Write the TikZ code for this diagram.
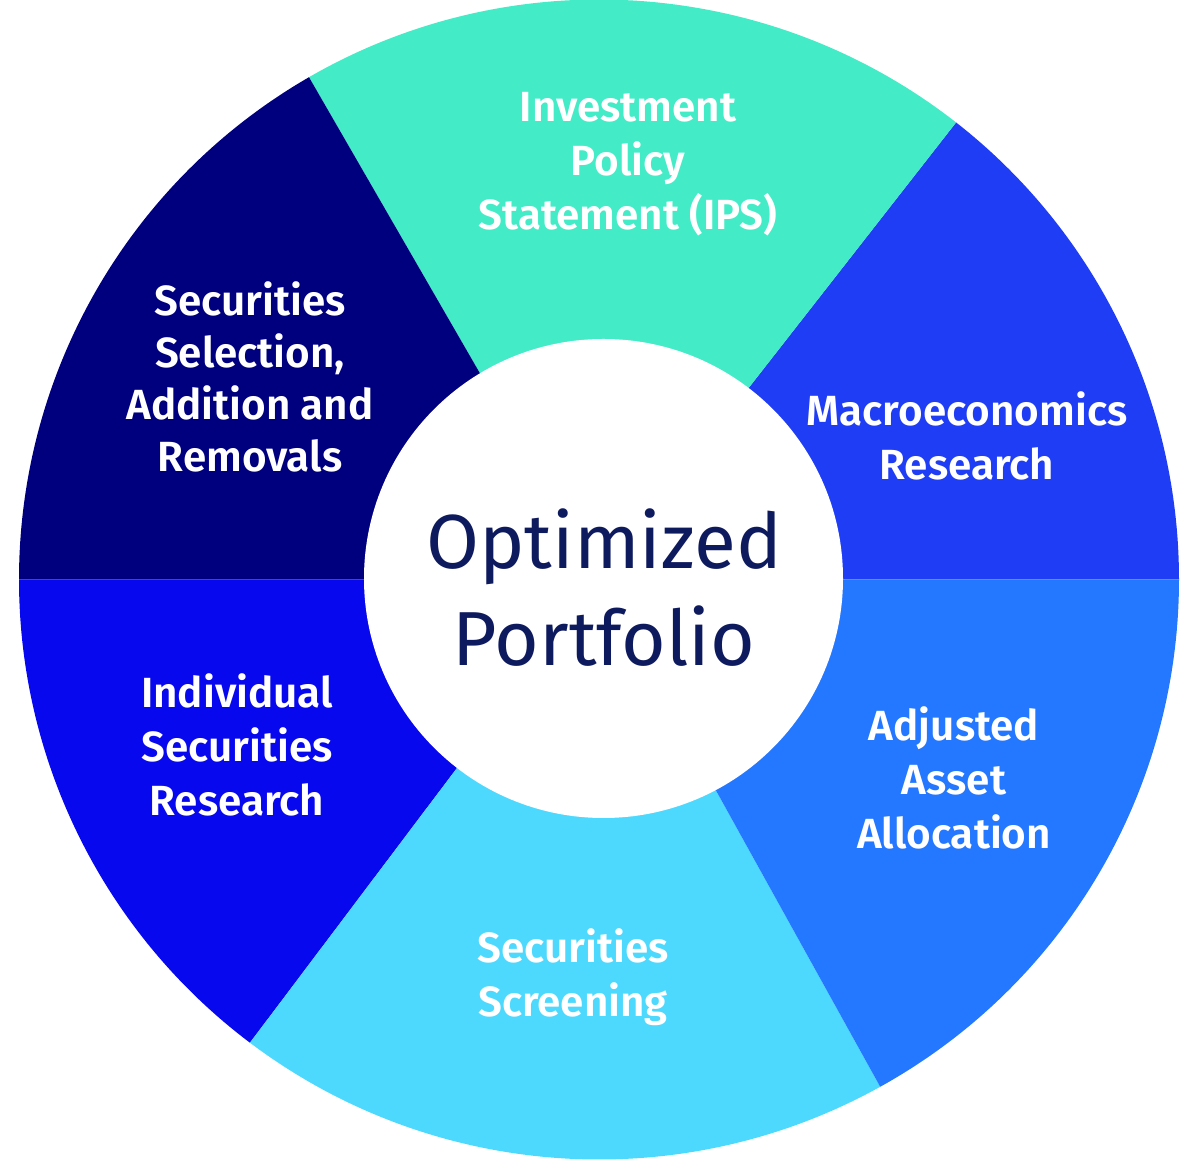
\documentclass[tikz,border=0pt]{standalone}
\usepackage{fontspec}
\setmainfont{Fira Sans}[BoldFont={Fira Sans SemiBold}]
\usepackage{tikz}
\usetikzlibrary{calc}

\definecolor{ipsteal}{HTML}{44EBC7}
\definecolor{macroblue}{HTML}{1F3DF5}
\definecolor{assetblue}{HTML}{2478FF}
\definecolor{screensky}{HTML}{4DD9FE}
\definecolor{indivblue}{HTML}{0808EE}
\definecolor{selectnavy}{HTML}{00007F}
\definecolor{coretext}{HTML}{0E1A5E}

\tikzset{
	seglabel/.style={text=white, align=center, font=\bfseries\fontsize{12}{15.4}\selectfont, inner sep=0pt},
	corelabel/.style={text=coretext, align=center, font=\fontsize{21.8}{27.6}\selectfont, inner sep=0pt}
}

\begin{document}
\begin{tikzpicture}
	\useasboundingbox (0,0) rectangle (12,11.6);
	\coordinate (O) at (5.99,5.805);		%centre of the wheel
	\coordinate (I) at (6.035,5.815);		%centre of the hole
	
	%wedges
	\foreach \a/\b/\c in {0/52/macroblue, 52/120/ipsteal, 120/180/selectnavy, 180/233/indivblue, 233/299/screensky, 299/360/assetblue}
	\fill[\c] (O) -- ++(\a:5.8) arc (\a:\b:5.8) -- cycle;
	
	%hole
	\fill[white] (I) circle (2.395);
	
	%labels
	\node[seglabel] (ips) at (6.28,9.96) {Investment\\Policy\\Statement (IPS)};
	\node[seglabel] (macro) at (9.67,7.245) {Macroeconomics\\Research};
	\node[seglabel] (asset) at (9.54,3.82) {Adjusted\\Asset\\Allocation};
	\node[seglabel] (screen) at (5.73,1.825) {Securities\\Screening};
	\node[seglabel] (indiv) at (2.37,4.15) {Individual\\Securities\\Research};
	\node[seglabel, font=\bfseries\fontsize{12}{14.8}\selectfont] (select) at (2.50,7.835) {Securities\\Selection,\\Addition and\\Removals};
	\node[corelabel] (core) at (6.04,5.72) {Optimized\\Portfolio};
\end{tikzpicture}
\end{document}
